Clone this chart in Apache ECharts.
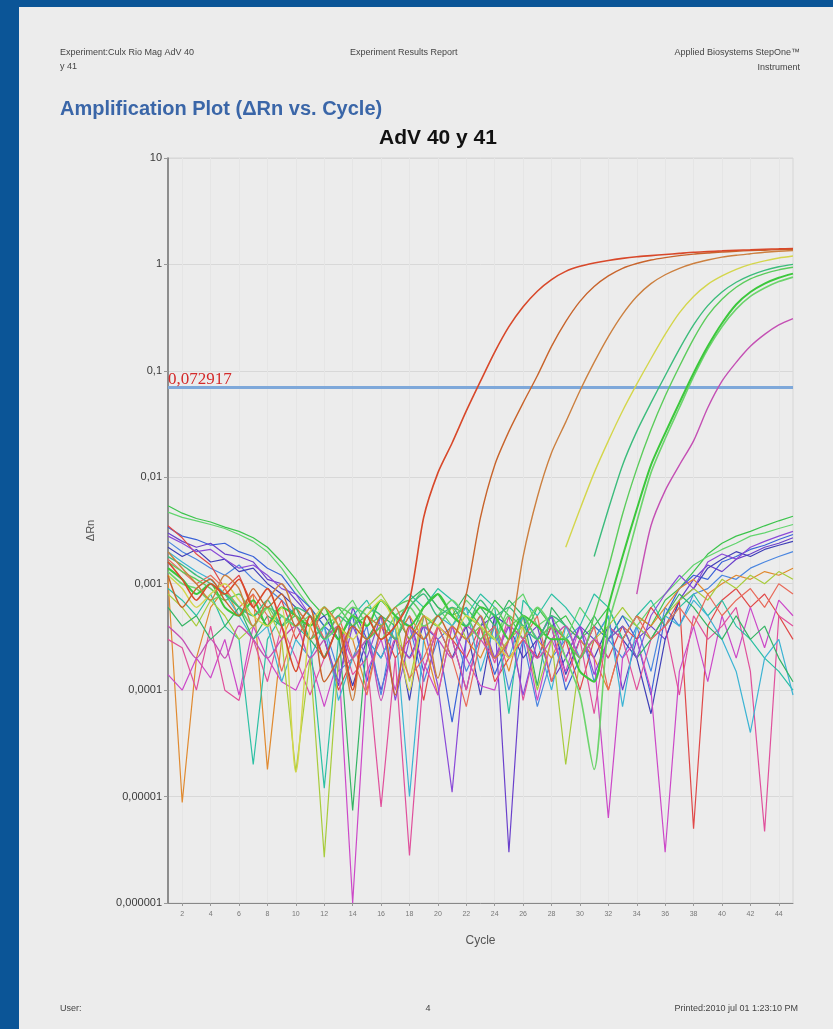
<!DOCTYPE html>
<html>
<head>
<meta charset="utf-8">
<title>Amplification Plot</title>
<script src="https://cdn.jsdelivr.net/npm/echarts@6/dist/echarts.min.js"></script>
<style>
  html, body { margin: 0; padding: 0; background: #0b5597; }
  #chart { width: 833px; height: 1029px; }
</style>
</head>
<body>
<div id="chart"></div>
<script>
// cycle numbers on the x axis
var cycles = [];
for (var c = 1; c <= 45; c++) cycles.push(c);

// y tick labels (decimal comma), from 10^-6 up to 10^1
var yTickLabels = ['0,000001', '0,00001', '0,0001', '0,001', '0,01', '0,1', '1', '10'];

var threshold = 0.072917;

// amplified wells (delta Rn per cycle, null = not plotted)
var wellA = [0.0016,0.0011,0.0007,0.0010,0.0008,0.0011,0.0006,0.0009,0.0004,0.00015,
  0.0005,0.0002,0.0004,0.0001,0.0005,0.0003,0.0004,0.0007,0.0042,0.011,
  0.021,0.042,0.08,0.15,0.26,0.40,0.56,0.72,0.86,0.96,
  1.03,1.09,1.14,1.18,1.21,1.24,1.27,1.30,1.32,1.34,
  1.36,1.37,1.39,1.40,1.41];
var wellB = [0.0012,0.0006,0.0009,0.0011,0.0007,0.0005,0.0009,0.0006,0.0008,0.0004,
  0.0006,0.00012,0.0002,0.0004,0.0003,0.0005,0.00009,0.0004,0.0003,0.0005,
  0.0003,0.0008,0.0042,0.013,0.027,0.05,0.09,0.17,0.29,0.45,
  0.62,0.78,0.92,1.02,1.10,1.16,1.21,1.25,1.28,1.31,
  1.33,1.35,1.36,1.38,1.39];
var wellC = [0.0020,0.0014,0.0010,0.0007,0.0012,0.0009,0.0004,0.0007,0.0010,0.0005,
  0.0003,0.0006,0.0004,0.00008,0.0005,0.0004,0.0006,0.0003,0.0005,0.00013,
  0.0004,0.0003,0.0005,0.0002,0.0003,0.0018,0.0065,0.017,0.033,0.065,
  0.12,0.21,0.34,0.50,0.66,0.80,0.92,1.02,1.10,1.17,
  1.22,1.26,1.30,1.33,1.35];
var wellD = [0.0012,0.0009,0.0006,0.0008,0.0010,0.0007,0.0005,0.0004,0.0006,0.000017,
  0.0004,0.0006,0.0004,0.0003,0.0005,0.0007,0.0004,0.0001,0.0005,0.0004,
  0.0003,0.0005,0.0004,0.0003,0.0002,0.0004,null,null,0.0022,0.005,
  0.011,0.022,0.042,0.075,0.13,0.22,0.35,0.50,0.65,0.78,
  0.90,1.00,1.08,1.15,1.20];
var wellE = [0.0018,0.0015,0.0012,0.0010,0.0008,0.0006,0.0005,0.0007,0.0004,0.0006,
  0.0005,0.0003,0.0005,0.0004,0.0006,0.0005,0.0003,0.0006,0.0008,0.0005,
  0.0006,0.0004,0.0007,0.0005,0.0006,0.0004,0.0003,0.0005,0.0004,null,
  0.0018,0.005,0.013,0.027,0.05,0.09,0.16,0.27,0.41,0.55,
  0.68,0.79,0.88,0.95,1.00];
var wellF = [0.0016,0.0013,0.0011,0.0009,0.0007,0.0008,0.0005,0.0006,0.0004,0.0005,
  0.0003,0.0004,0.0006,0.0005,0.0003,0.0004,0.0006,0.0007,0.0005,0.0004,
  0.0006,0.0005,0.0003,0.0006,0.0004,0.0005,0.0003,0.0004,0.0003,0.0002,
  0.0005,0.0014,0.0045,0.012,0.028,0.058,0.11,0.20,0.33,0.47,
  0.61,0.73,0.82,0.89,0.94];
var wellG = [0.0014,0.0011,0.0008,0.0010,0.0006,0.0005,0.0007,0.0004,0.0006,0.0005,
  0.0004,0.0006,0.0003,0.0005,0.0004,0.0007,0.0005,0.0004,0.0006,0.0008,
  0.0005,0.0004,0.0006,0.0005,0.0003,0.0005,0.0004,0.0003,0.0003,0.00015,
  0.00012,0.0006,0.0018,0.005,0.013,0.026,0.05,0.095,0.17,0.28,
  0.42,0.55,0.66,0.75,0.82];
var wellG2 = [0.0013,0.0010,0.0009,0.0007,0.0008,0.0006,0.0004,0.0006,0.0005,0.0004,
  0.0005,0.0003,0.0004,0.0006,0.0005,0.0003,0.0005,0.0006,0.0004,0.0005,
  0.0007,0.0005,0.0004,0.0003,0.0005,0.0004,0.0006,0.0004,0.0002,0.00009,
  0.000018,0.0004,0.0012,0.0038,0.011,0.023,0.045,0.088,0.16,0.26,
  0.38,0.50,0.60,0.69,0.76];
var wellH = [0.0004,0.0003,0.0002,0.0003,0.0002,0.0004,0.0003,0.0002,0.0003,0.0004,
  0.0002,0.0003,0.0004,0.0002,0.0003,0.00008,0.0003,0.0002,0.0004,0.0003,
  0.0002,0.0004,0.0003,0.0002,0.0004,0.0003,0.0002,0.0003,0.0004,0.0002,
  0.0003,0.0002,null,0.0008,0.0035,0.0075,0.013,0.022,0.045,0.08,
  0.12,0.17,0.22,0.27,0.31];

// wells that never cross the threshold
var noise1 = [0.0054,0.0046,0.0041,0.0038,0.0034,0.0031,0.0027,0.0022,0.0016,0.0011,
  0.0007,0.0005,0.0006,0.0004,0.0005,0.0007,0.0005,0.0003,0.0006,0.0008,
  0.0005,0.0006,0.0004,0.0007,0.0005,0.0003,0.0006,0.0004,0.0005,0.0003,
  0.0004,0.0006,0.0003,0.0005,0.0004,0.0007,0.0009,0.0013,0.0019,0.0024,
  0.0028,0.0031,0.0035,0.0039,0.0043];
var noise2 = [0.0047,0.0042,0.0039,0.0036,0.0033,0.0029,0.0025,0.0020,0.0014,0.0009,
  0.0006,0.0004,0.0005,0.0007,0.0004,0.0005,0.0003,0.0006,0.0009,0.0006,
  0.0004,0.0007,0.0005,0.0003,0.0006,0.0008,0.0004,0.0005,0.0003,0.0006,
  0.0004,0.0003,0.0005,0.0004,0.0006,0.0008,0.0011,0.0015,0.0018,0.0021,
  0.0024,0.0028,0.0030,0.0033,0.0036];
var noise3 = [0.0034,0.0028,0.0026,0.0023,0.0024,0.0020,0.0018,0.0014,0.0012,0.0008,
  0.0006,0.0004,0.0003,0.0005,0.00012,0.0004,0.0003,0.0002,0.0004,0.0003,
  0.00005,0.0003,0.0004,0.00014,0.0003,0.0005,0.0002,0.0004,0.0001,0.0002,
  0.0004,0.0003,0.0005,0.0003,0.00009,0.0005,0.0009,0.0012,0.0011,0.0016,
  0.0018,0.0021,0.0023,0.0026,0.0029];
var noise4 = [0.0030,0.0025,0.0022,0.0024,0.0019,0.0018,0.0016,0.0011,0.0010,0.0007,
  0.0005,0.0003,0.00011,0.0006,0.0003,0.0001,0.0003,0.0005,0.00015,0.0004,
  0.0003,0.0001,0.0004,0.0005,0.000003,0.0003,0.0004,0.00012,0.0002,0.0004,
  0.0003,0.0005,0.0001,0.0003,0.0004,0.0003,0.0007,0.0011,0.0015,0.0013,
  0.0017,0.0019,0.0022,0.0024,0.0027];
var noise5 = [0.0025,0.0020,0.0017,0.0014,0.0012,0.0015,0.0011,0.0009,0.0007,0.0005,
  0.0003,0.0004,0.00015,0.0002,0.0004,0.00009,0.0005,0.0004,0.00012,0.0003,
  0.0004,0.00015,0.0003,0.0004,0.0001,0.0003,0.00007,0.0002,0.0003,0.0004,
  0.00012,0.0003,0.0002,0.0004,0.00015,0.0006,0.0004,0.0008,0.0009,0.0012,
  0.0011,0.0014,0.0016,0.0018,0.0020];
var noise6 = [0.0022,0.0018,0.0021,0.0016,0.0017,0.0013,0.0014,0.0010,0.0008,0.0006,
  0.0004,0.0005,0.0003,0.00011,0.0003,0.0002,0.0004,0.00008,0.0005,0.0004,
  0.0002,0.0004,0.00009,0.0005,0.0004,0.0002,0.0003,0.0005,0.00014,0.0003,
  0.0002,0.0004,0.0003,0.0002,0.00006,0.0003,0.0007,0.0009,0.0014,0.0017,
  0.0020,0.0018,0.0021,0.0023,0.0025];
var noise7 = [0.0035,0.0027,0.0019,0.0015,0.0009,0.0012,0.0006,0.0004,0.0007,0.0003,
  0.0005,0.0003,0.0001,0.0002,0.0003,0.0004,0.0002,0.0003,0.00008,0.0004,
  0.0003,0.0002,0.0004,0.00012,0.0002,0.0003,0.0002,0.0004,0.0003,0.0001,
  0.0003,0.0002,0.0004,0.0003,0.0006,0.0004,0.0007,0.000005,0.0004,0.0007,
  0.0009,0.0006,0.0008,0.0005,0.0003];
var noise8 = [0.0011,0.0000088,0.0002,0.0006,0.0009,0.0005,0.0008,0.000018,0.0003,0.0006,
  0.0004,0.0002,0.0004,0.0003,0.0001,0.0004,0.0003,0.0005,0.0003,0.00009,
  0.0004,0.0003,0.0002,0.0004,0.00015,0.0005,0.0003,0.0002,0.0004,0.0003,
  0.0002,0.0001,0.0003,0.0005,0.0004,0.0006,0.0009,0.0011,0.0008,0.0010,
  0.0012,0.0011,0.0013,0.0012,0.0014];
var noise9 = [0.00014,0.0001,0.0002,0.00013,0.0003,0.00009,0.0004,0.0002,0.00012,0.0001,
  0.0002,0.00007,0.0002,0.000001,0.00015,0.0003,0.0001,0.0004,0.00018,0.00009,
  0.0004,0.0002,0.00011,0.0001,0.0003,0.0004,0.00008,0.0003,0.00015,0.0004,
  0.0002,0.0000063,0.0002,0.0003,0.0001,0.000003,0.00015,0.0004,0.00012,0.0005,
  0.0002,0.0006,0.00025,0.0007,0.0005];
var noise10 = [0.0003,0.00025,0.0001,0.0004,0.0001,0.00008,0.0003,0.00012,0.0004,0.0002,
  0.00009,0.0002,0.0004,0.00014,0.0002,0.000008,0.0002,0.0000028,0.00015,0.0004,
  0.0003,0.0001,0.0004,0.00018,0.0005,0.00008,0.0003,0.0004,0.00012,0.0003,
  0.00006,0.0004,0.0003,0.0001,0.0003,0.0004,0.00009,0.0005,0.0003,0.0004,
  0.0006,0.00015,0.0000047,0.0005,0.0004];
var noise11 = [0.0009,0.0007,0.0005,0.0008,0.0004,0.0003,0.00002,0.0003,0.0005,0.0004,
  0.0003,0.000012,0.0003,0.0005,0.0007,0.0004,0.0006,0.0008,0.0006,0.0009,
  0.0007,0.0005,0.0008,0.0006,0.00006,0.0007,0.0005,0.0008,0.0006,0.0004,
  0.0008,0.0006,0.0003,0.0005,0.0007,0.0004,0.0006,0.0008,0.0005,0.0007,
  0.0004,0.0003,0.0002,0.00015,0.0001];
var noise12 = [0.0020,0.0016,0.0013,0.0011,0.0008,0.0005,0.0003,0.0004,0.00012,0.0003,
  0.0002,0.0004,0.00008,0.0002,0.0003,0.0002,0.0004,0.00001,0.0003,0.0005,
  0.0004,0.0006,0.00015,0.0004,0.0002,0.0005,0.0003,0.0001,0.0004,0.0002,
  0.0003,0.0005,0.00007,0.0004,0.0003,0.0005,0.0004,0.0007,0.0005,0.0003,
  0.00015,0.00004,0.0002,0.0003,0.00009];
var noise13 = [0.0008,0.0006,0.0004,0.0007,0.0005,0.0003,0.0004,0.0006,0.0003,0.000017,
  0.0002,0.0000027,0.0002,0.0004,0.0006,0.0008,0.0005,0.00012,0.0005,0.0004,
  0.0006,0.0003,0.0004,0.0002,0.0003,0.0004,0.0001,0.0003,0.00002,0.0002,
  0.0003,0.0004,0.0006,0.0004,0.0003,0.0005,0.0007,0.0009,0.0007,0.0011,
  0.0009,0.0012,0.0010,0.0013,0.0011];
var noise14 = [0.0006,0.0004,0.0005,0.0003,0.0004,0.0006,0.0003,0.0005,0.0004,0.0006,
  0.0003,0.0002,0.0004,0.0000074,0.0003,0.0005,0.0004,0.0007,0.0009,0.0006,
  0.0005,0.0008,0.0006,0.0004,0.0007,0.0005,0.00011,0.0006,0.0004,0.0003,
  0.0005,0.0003,0.0004,0.0002,0.0003,0.0005,0.0008,0.0006,0.0004,0.0003,
  0.0005,0.0003,0.0004,0.0002,0.00012];
var noise15 = [0.0028,0.0024,0.0020,0.0021,0.0017,0.0014,0.0015,0.0012,0.0009,0.0008,
  0.0005,0.0003,0.00012,0.0004,0.0002,0.0005,0.00008,0.0003,0.0004,0.00011,
  0.000011,0.0003,0.0005,0.0002,0.0004,0.00009,0.0003,0.0005,0.0002,0.0004,
  0.00014,0.0003,0.0004,0.0002,0.0005,0.0008,0.0012,0.0009,0.0016,0.0019,
  0.0017,0.0022,0.0025,0.0028,0.0031];
var noise16 = [0.0017,0.0013,0.0010,0.0012,0.0009,0.0006,0.0008,0.0005,0.00015,0.0004,
  0.0006,0.0003,0.0005,0.0002,0.00009,0.0004,0.0003,0.00013,0.0002,0.0004,
  0.0002,0.00007,0.0003,0.0004,0.0002,0.0003,0.0005,0.00012,0.0003,0.0002,
  0.0004,0.0001,0.0003,0.0005,0.0003,0.0004,0.0006,0.0004,0.0008,0.0005,
  0.0007,0.0009,0.0006,0.0010,0.0008];

// drawing order and look of each well: [data, colour, width, smooth]
var wellList = [
  [noise1, '#3cc44c', 1.2, false], [noise2, '#62d46e', 1.2, false],
  [noise3, '#3a62d8', 1.2, false], [noise4, '#6a40cc', 1.2, false],
  [noise5, '#4a86e0', 1.2, false], [noise6, '#4040b8', 1.2, false],
  [noise7, '#e04848', 1.2, false], [noise8, '#e08a30', 1.2, false],
  [noise9, '#cc48c8', 1.2, false], [noise10, '#e0509c', 1.2, false],
  [noise11, '#2cc0a4', 1.2, false], [noise12, '#3cb4d4', 1.2, false],
  [noise13, '#a8cc3c', 1.2, false], [noise14, '#34b464', 1.2, false],
  [noise15, '#8a4ad8', 1.2, false], [noise16, '#e86a5a', 1.2, false],
  [wellH, '#c450b4', 1.4, true], [wellG2, '#6cd46c', 1.6, true],
  [wellG, '#3cc83c', 2, true], [wellF, '#5ccc5c', 1.4, true],
  [wellE, '#3cbc7c', 1.4, true], [wellD, '#d4d64c', 1.4, true],
  [wellC, '#cc8040', 1.4, true], [wellB, '#c8642c', 1.4, true],
  [wellA, '#d8482a', 1.6, true]
];

var font = 'Liberation Sans, Arial, sans-serif';
var evenCycle = function (index) { return cycles[index] % 2 === 0; };

var series = wellList.map(function (w, i) {
  return {
    type: 'line',
    data: w[0],
    symbol: 'none',
    smooth: w[3] ? 0.25 : false,
    animation: false,
    lineStyle: { color: w[1], width: w[2] },
    z: 2 + i
  };
});

series.push({
  type: 'line',
  data: [],
  animation: false,
  z: 40,
  markLine: {
    silent: true,
    symbol: 'none',
    animation: false,
    lineStyle: { color: '#7ea8da', width: 3, type: 'solid' },
    label: {
      show: true,
      position: 'insideStartTop',
      formatter: '0,072917',
      color: '#d42a2a',
      fontFamily: 'Liberation Serif, Times New Roman, serif',
      fontSize: 17,
      distance: [0, -1]
    },
    data: [{ yAxis: threshold }]
  }
});

var chart = echarts.init(document.getElementById('chart'));
chart.setOption({
  backgroundColor: '#ececec',
  animation: false,
  grid: { left: 168, top: 158, right: 40, bottom: 126, show: true, borderColor: '#d6d6d6', borderWidth: 1 },
  xAxis: {
    type: 'category',
    data: cycles,
    boundaryGap: false,
    name: 'Cycle',
    nameLocation: 'middle',
    nameGap: 32,
    nameTextStyle: { fontFamily: font, fontSize: 12, color: '#555' },
    axisLine: { lineStyle: { color: '#888', width: 1 } },
    axisTick: { interval: evenCycle, length: 3, lineStyle: { color: '#999' } },
    axisLabel: { interval: evenCycle, fontFamily: font, fontSize: 7, color: '#777', margin: 8 },
    splitLine: { show: true, interval: evenCycle, lineStyle: { color: '#e5e5e5', width: 1 } }
  },
  yAxis: {
    type: 'log',
    logBase: 10,
    min: 0.000001,
    max: 10,
    splitNumber: 7,
    name: 'ΔRn',
    nameLocation: 'middle',
    nameGap: 72,
    nameRotate: 90,
    nameTextStyle: { fontFamily: font, fontSize: 11, color: '#555' },
    axisLine: { show: true, lineStyle: { color: '#707070', width: 1.5 } },
    axisTick: { show: true, length: 4, lineStyle: { color: '#999' } },
    axisLabel: {
      fontFamily: font, fontSize: 11, color: '#3a3a3a', margin: 6,
      formatter: function (v) { return yTickLabels[Math.round(Math.log10(v)) + 6]; }
    },
    splitLine: { show: true, lineStyle: { color: '#d8d8d8', width: 1 } }
  },
  graphic: [
    { type: 'rect', shape: { x: 0, y: 0, width: 19, height: 1029 }, style: { fill: '#0b5597' }, z: 100 },
    { type: 'rect', shape: { x: 0, y: 0, width: 833, height: 7 }, style: { fill: '#0b5597' }, z: 100 },
    { type: 'text', style: { x: 60, y: 53, text: 'Experiment:Culx Rio Mag AdV 40', font: '9px ' + font, fill: '#444', textVerticalAlign: 'middle' } },
    { type: 'text', style: { x: 60, y: 67, text: 'y 41', font: '9px ' + font, fill: '#444', textVerticalAlign: 'middle' } },
    { type: 'text', style: { x: 350, y: 53, text: 'Experiment Results Report', font: '9px ' + font, fill: '#444', textVerticalAlign: 'middle' } },
    { type: 'text', style: { x: 800, y: 53, text: 'Applied Biosystems StepOne™', font: '9px ' + font, fill: '#444', textAlign: 'right', textVerticalAlign: 'middle' } },
    { type: 'text', style: { x: 800, y: 68, text: 'Instrument', font: '9px ' + font, fill: '#444', textAlign: 'right', textVerticalAlign: 'middle' } },
    { type: 'text', style: { x: 60, y: 109, text: 'Amplification Plot (ΔRn vs. Cycle)', font: 'bold 20px ' + font, fill: '#3a66a8', textVerticalAlign: 'middle' } },
    { type: 'text', style: { x: 438, y: 138, text: 'AdV 40 y 41', font: 'bold 21px ' + font, fill: '#111', textAlign: 'center', textVerticalAlign: 'middle' } },
    { type: 'text', style: { x: 60, y: 1009, text: 'User:', font: '9px ' + font, fill: '#444', textVerticalAlign: 'middle' } },
    { type: 'text', style: { x: 428, y: 1009, text: '4', font: '9px ' + font, fill: '#444', textAlign: 'center', textVerticalAlign: 'middle' } },
    { type: 'text', style: { x: 798, y: 1009, text: 'Printed:2010 jul 01 1:23:10 PM', font: '9px ' + font, fill: '#444', textAlign: 'right', textVerticalAlign: 'middle' } }
  ],
  series: series
});
</script>
</body>
</html>
